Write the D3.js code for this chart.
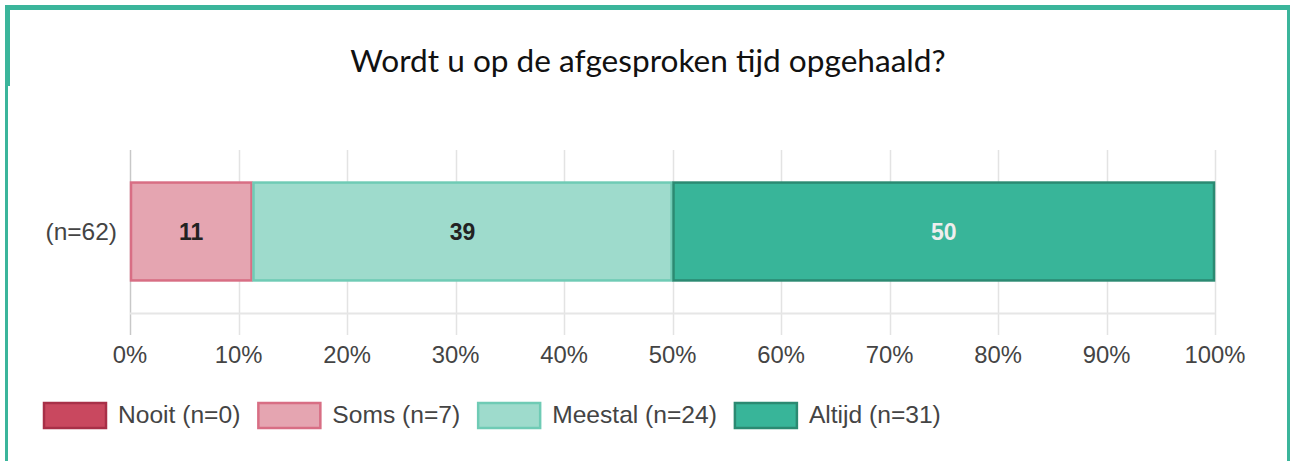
<!DOCTYPE html>
<html>
<head>
    <meta charset="utf-8" />
    <title>Wordt u op de afgesproken tijd opgehaald?</title>
    <script src="https://d3js.org/d3.v7.min.js"></script>
    <style>
        body { margin: 0; background: #fff; }
        svg { display: block; }
    </style>
</head>
<body>
<svg width="1290" height="461"></svg>

<script>
    // Data
    var categories = ["Nooit", "Soms", "Meestal", "Altijd"];
    var counts = [0, 7, 24, 31];
    var rowLabels = ["(n=62)"];
    var tickValues = [0, 0.1, 0.2, 0.3, 0.4, 0.5, 0.6, 0.7, 0.8, 0.9, 1];
    var title = "Wordt u op de afgesproken tijd opgehaald?";

    var fills = ["#c9485f", "#e5a5b1", "#9edbcc", "#38b599"];
    var strokes = ["#a83048", "#d86e84", "#6fcbb5", "#2b8a72"];
    var labelColors = ["#222", "#222", "#222", "#eeeeee"];

    var svg = d3.select("svg");
    var font = "'Liberation Sans', Arial, sans-serif";

    // frame
    svg.append("rect").attr("x", 5).attr("y", 5).attr("width", 1285).attr("height", 5).attr("fill", "#3bb59b");
    svg.append("rect").attr("x", 5).attr("y", 5).attr("width", 5).attr("height", 81).attr("fill", "#3bb59b");
    svg.append("rect").attr("x", 5).attr("y", 86).attr("width", 3).attr("height", 375).attr("fill", "#3bb59b");
    svg.append("rect").attr("x", 1287).attr("y", 5).attr("width", 3).attr("height", 456).attr("fill", "#3bb59b");

    // title
    svg.append("text")
        .attr("x", 648)
        .attr("y", 72)
        .attr("text-anchor", "middle")
        .style("font-family", "Lato, sans-serif")
        .style("font-size", "31.6px")
        .attr("fill", "#111")
        .text(title);

    var total = d3.sum(counts);
    var x = d3.scaleLinear().domain([0, 1]).range([130, 1215]);
    var y = d3.scaleBand().domain(rowLabels).range([150, 313]).padding(0.24);

    var g = svg.append("g");

    // gridlines
    g.selectAll(".grid")
        .data(tickValues)
        .enter()
        .append("line")
        .attr("x1", function (d) { return Math.round(x(d)) + 0.5; })
        .attr("x2", function (d) { return Math.round(x(d)) + 0.5; })
        .attr("y1", 150)
        .attr("y2", 335)
        .attr("stroke", function (d) { return d === 0 ? "#c8c8c8" : "#e3e3e3"; })
        .attr("stroke-width", 1.5);

    // baseline
    g.append("line")
        .attr("x1", x(0)).attr("x2", x(1))
        .attr("y1", 313.5).attr("y2", 313.5)
        .attr("stroke", "#e6e6e6")
        .attr("stroke-width", 2);

    // stacked segments
    var segs = [];
    var acc = 0;
    counts.forEach(function (c, i) {
        segs.push({ i: i, x0: acc / total, x1: (acc + c) / total, v: c });
        acc += c;
    });

    g.selectAll(".bar")
        .data(segs.filter(function (d) { return d.v > 0; }))
        .enter()
        .append("rect")
        .attr("x", function (d) { return x(d.x0) + 1; })
        .attr("y", y(rowLabels[0]) + 1)
        .attr("width", function (d) { return x(d.x1) - x(d.x0) - 2; })
        .attr("height", y.bandwidth() - 2)
        .attr("fill", function (d) { return fills[d.i]; })
        .attr("stroke", function (d) { return strokes[d.i]; })
        .attr("stroke-width", 2.5);

    // value labels
    g.selectAll(".val")
        .data(segs.filter(function (d) { return d.v > 0; }))
        .enter()
        .append("text")
        .attr("x", function (d) { return (x(d.x0) + x(d.x1)) / 2; })
        .attr("y", y(rowLabels[0]) + y.bandwidth() / 2 + 8.5)
        .attr("text-anchor", "middle")
        .style("font-family", font)
        .style("font-size", "23px")
        .style("font-weight", "bold")
        .attr("fill", function (d) { return labelColors[d.i]; })
        .text(function (d) { return Math.round(d.v / total * 100); });

    // row label
    g.append("text")
        .attr("x", 117)
        .attr("y", y(rowLabels[0]) + y.bandwidth() / 2 + 8.5)
        .attr("text-anchor", "end")
        .style("font-family", font)
        .style("font-size", "24.5px")
        .attr("fill", "#444")
        .text(rowLabels[0]);

    // x axis labels
    var fmt = d3.format(".0%");
    g.selectAll(".tick-label")
        .data(tickValues)
        .enter()
        .append("text")
        .attr("x", function (d) { return x(d); })
        .attr("y", 363)
        .attr("text-anchor", "middle")
        .style("font-family", font)
        .style("font-size", "23.8px")
        .attr("fill", "#444")
        .text(function (d) { return fmt(d); });

    // legend
    var lx = 43;
    var legend = svg.append("g");
    categories.forEach(function (c, i) {
        legend.append("rect")
            .attr("x", lx + 1)
            .attr("y", 403)
            .attr("width", 62)
            .attr("height", 25)
            .attr("fill", fills[i])
            .attr("stroke", strokes[i])
            .attr("stroke-width", 2.5);
        var t = legend.append("text")
            .attr("x", lx + 75)
            .attr("y", 423)
            .style("font-family", font)
            .style("font-size", "24.6px")
            .attr("fill", "#444")
            .text(c + " (n=" + counts[i] + ")");
        lx = lx + 75 + t.node().getComputedTextLength() + 17;
    });
</script>
</body>
</html>
